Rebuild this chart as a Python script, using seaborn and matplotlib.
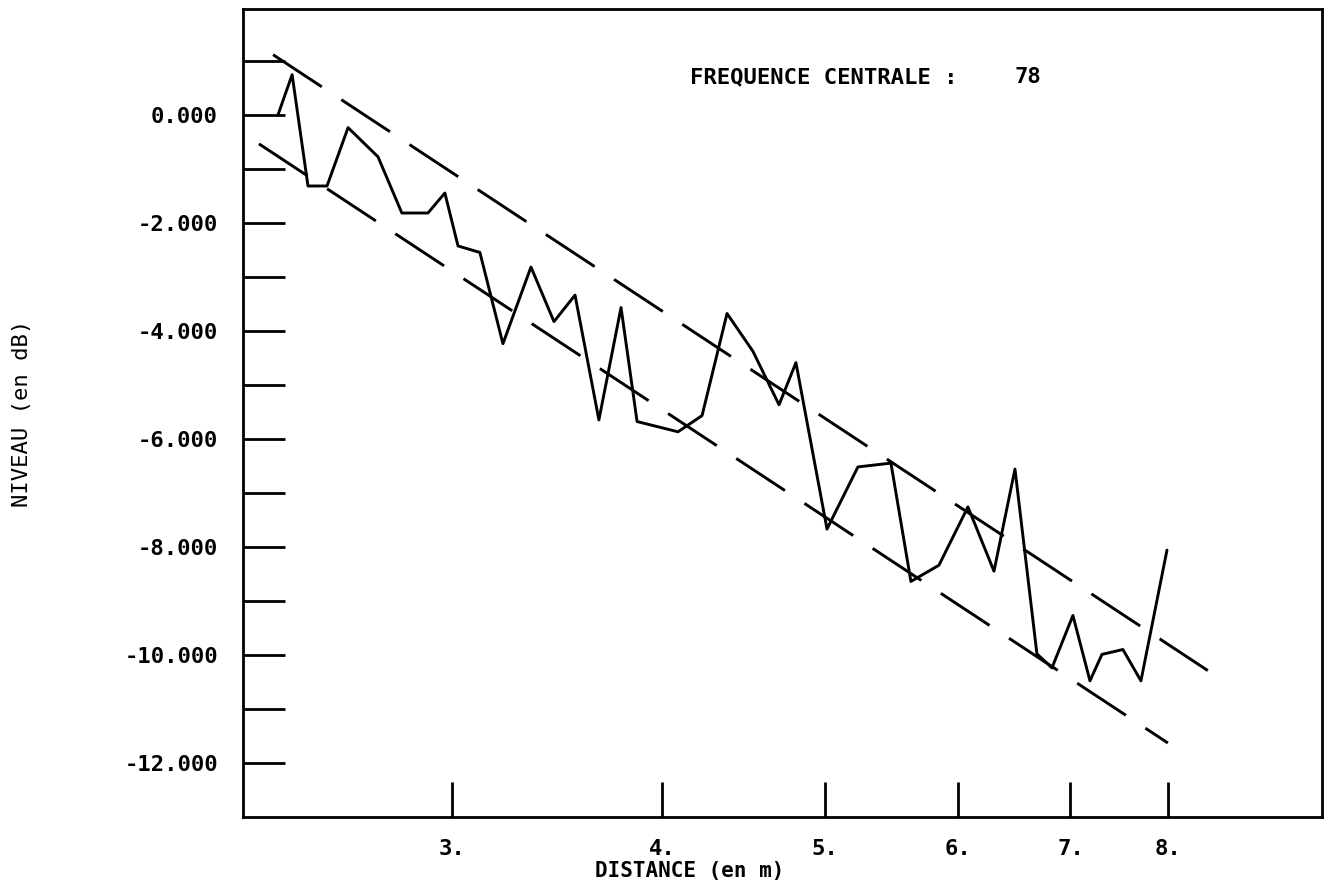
import numpy as np
import pandas as pd
import seaborn as sns
import matplotlib
matplotlib.use("Agg")
import matplotlib.pyplot as plt
from matplotlib.ticker import FixedLocator, NullLocator

# measured level along the distance (log axis)
distance = [2.364, 2.410, 2.463, 2.528, 2.602, 2.711, 2.801, 2.903, 2.971, 3.025,
            3.117, 3.217, 3.343, 3.450, 3.551, 3.669, 3.782, 3.866, 4.089, 4.226,
            4.373, 4.531, 4.696, 4.806, 5.015, 5.232, 5.474, 5.626, 5.846, 6.083,
            6.304, 6.488, 6.686, 6.825, 7.024, 7.190, 7.309, 7.522, 7.710, 7.990]
niveau = [0.00, 0.74, -1.32, -1.32, -0.24, -0.78, -1.82, -1.82, -1.45, -2.43,
          -2.55, -4.24, -2.82, -3.83, -3.34, -5.65, -3.57, -5.68, -5.87, -5.57,
          -3.68, -4.38, -5.37, -4.59, -7.67, -6.52, -6.45, -8.64, -8.34, -7.26,
          -8.45, -6.56, -9.98, -10.24, -9.27, -10.48, -9.99, -9.90, -10.48, -8.06]

# envelope lines (dashed)
upper_x = [2.348, 8.45]
upper_y = [1.11, -10.29]
lower_x = [2.303, 8.00]
lower_y = [-0.54, -11.63]

x_ticks = [3, 4, 5, 6, 7, 8]
x_labels = ["3.", "4.", "5.", "6.", "7.", "8."]
y_major = [0, -2, -4, -6, -8, -10, -12]
y_minor = [1, -1, -3, -5, -7, -9, -11]
freq = 78

sns.set_style("white")
plt.rcParams["font.family"] = ["DejaVu Sans Mono"]
plt.rcParams["text.color"] = "black"
plt.rcParams["axes.labelcolor"] = "black"

fig = plt.figure(figsize=(13.29, 8.89), dpi=100)
ax = fig.add_axes([0.1828, 0.081, 0.8119, 0.9085])

df = pd.DataFrame({"distance": distance, "niveau": niveau})
sns.lineplot(data=df, x="distance", y="niveau", sort=False, color="black",
             linewidth=2.1, ax=ax)
sns.lineplot(x=upper_x, y=upper_y, color="black", linewidth=2.1, ax=ax)
sns.lineplot(x=lower_x, y=lower_y, color="black", linewidth=2.1, ax=ax)
for ln in ax.lines[1:]:
    ln.set_dashes((20, 8))
    ln.set_dash_capstyle("butt")

ax.set_xscale("log")
ax.set_xlim(2.253, 9.88)
ax.set_ylim(-13, 1.95)

ax.xaxis.set_major_locator(FixedLocator(x_ticks))
ax.xaxis.set_minor_locator(NullLocator())
ax.set_xticklabels(x_labels, fontsize=16, fontweight="bold")
ax.yaxis.set_major_locator(FixedLocator(y_major))
ax.yaxis.set_minor_locator(FixedLocator(y_minor))
ax.set_yticklabels([f"{v:.3f}" for v in y_major], fontsize=16, fontweight="bold")

ax.tick_params(axis="x", which="major", bottom=True, direction="in", length=25,
               width=2, pad=16, colors="black")
ax.tick_params(axis="y", which="both", left=True, direction="in", length=30,
               width=2, pad=18, colors="black")

for sp in ax.spines.values():
    sp.set_linewidth(2)
    sp.set_color("black")

ax.set_xlabel("DISTANCE (en m)", fontsize=15, fontweight="bold")
ax.xaxis.set_label_coords(0.414, -0.054)
ax.set_ylabel("NIVEAU (en dB)", fontsize=16)
ax.yaxis.set_label_coords(-0.1955, 0.5)

ax.text(0.414, 0.916, "FREQUENCE CENTRALE :", transform=ax.transAxes,
        fontsize=16, fontweight="bold", va="center", ha="left")
ax.text(0.7155, 0.916, str(freq), transform=ax.transAxes,
        fontsize=16, fontweight="bold", va="center", ha="left")

fig.savefig("out.png", dpi=100)
